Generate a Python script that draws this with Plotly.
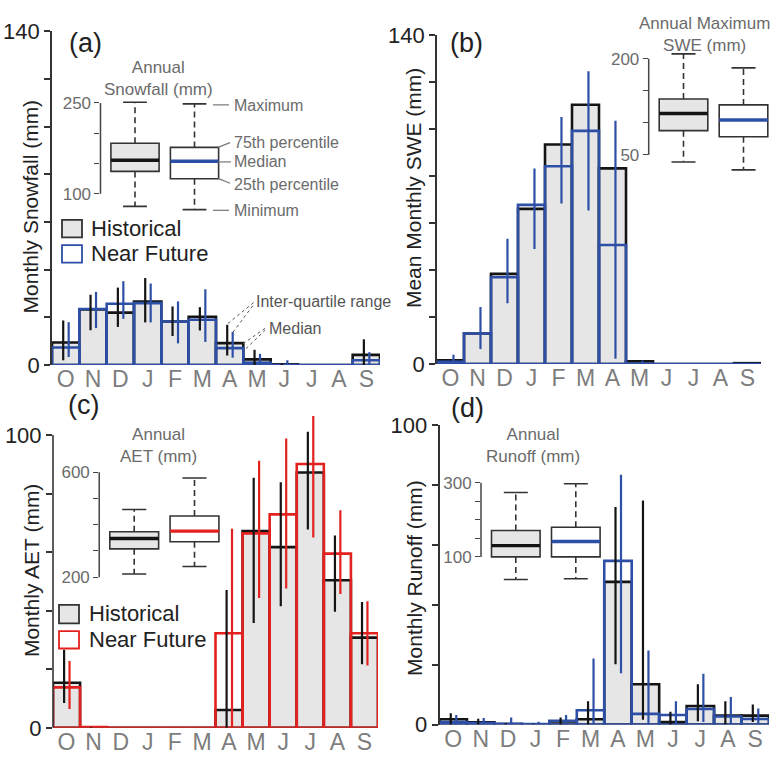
import plotly.graph_objects as go

W, H = 780, 765
FONT = "Liberation Sans, Arial, sans-serif"

months = ['O', 'N', 'D', 'J', 'F', 'M', 'A', 'M', 'J', 'J', 'A', 'S']

# (a) Monthly snowfall (mm): medians and inter-quartile ranges
snow_hist_med = [9.5, 23.3, 22.0, 26.7, 18.3, 20.3, 9.2, 2.4, 0.3, 0, 0, 4.3]
snow_fut_med = [7.4, 23.5, 25.7, 26.0, 18.3, 19.0, 7.1, 1.0, 0, 0, 0, 2.0]
snow_hist_q25 = [2.0, 14.6, 16.0, 17.9, 12.2, 14.5, 4.0, 0, 0, 0, 0, 0]
snow_hist_q75 = [18.7, 29.5, 32.5, 36.5, 24.6, 24.3, 16.9, 6.4, 0.8, 0, 0, 10.8]
snow_fut_q25 = [3.4, 15.5, 19.4, 17.9, 9.1, 9.7, 3.1, 0, 0, 0, 0, 0]
snow_fut_q75 = [18.0, 30.7, 35.2, 34.2, 26.7, 31.8, 13.9, 4.7, 2.0, 0, 0, 5.4]

# (b) Mean monthly SWE (mm)
swe_hist_med = [1.6, 13.0, 38.4, 66.1, 93.5, 110.4, 83.3, 1.2, 0, 0, 0, 0.4]
swe_fut_med = [1.0, 13.0, 37.0, 67.8, 84.2, 99.3, 50.7, 0.2, 0, 0, 0, 0]
swe_fut_q25 = [0.5, 6.4, 25.9, 49.0, 68.4, 65.4, 2.3, 0, 0, 0, 0, 0]
swe_fut_q75 = [4.0, 24.3, 53.4, 83.3, 105.2, 124.7, 103.6, 1.5, 0, 0, 0, 0]

# (c) Monthly AET (mm)
aet_hist_med = [15.4, 0, 0, 0, 0, 0, 6.1, 67.2, 61.7, 87.2, 50.4, 30.8]
aet_fut_med = [13.8, 0.3, 0, 0, 0, 0, 32.3, 66.4, 72.9, 90.1, 59.5, 32.3]
aet_hist_q25 = [8.5, 0, 0, 0, 0, 0, 0, 35.8, 41.5, 67.7, 39.6, 21.7]
aet_hist_q75 = [26.7, 0.3, 0, 0, 0, 0, 47.1, 85.4, 83.9, 101.1, 65.7, 43.0]
aet_fut_q25 = [6.4, 0, 0, 0, 0, 0, 0, 44.3, 47.6, 65.0, 45.7, 21.3]
aet_fut_q75 = [22.8, 0.6, 0, 0, 0, 0, 68.0, 91.2, 98.8, 106.5, 74.3, 43.2]

# (d) Monthly runoff (mm)
ro_hist_med = [1.8, 0.75, 0.2, 0.1, 1.1, 1.8, 47.7, 13.5, 0.9, 6.2, 3.0, 3.0]
ro_fut_med = [0.9, 0.5, 0.3, 0.2, 1.3, 4.8, 54.7, 3.6, 3.2, 5.2, 2.7, 1.9]
ro_hist_q25 = [0, 0, 0, 0, 0, 0, 20.2, 1.6, 0, 1.1, 0, 0.9]
ro_hist_q75 = [3.8, 2.0, 0.5, 0.3, 2.4, 7.8, 72.7, 74.9, 4.3, 13.5, 7.8, 6.7]
ro_fut_q25 = [0, 0, 0, 0, 0, 0, 17.2, 0, 0, 0.9, 0, 0]
ro_fut_q75 = [3.2, 2.2, 2.4, 1.0, 3.2, 22.1, 83.5, 24.8, 7.8, 17.0, 9.2, 5.4]

# Inset annual box plots: [min, q1, median, q3, max]
ann_snow_hist = [79.3, 137, 155.4, 183.5, 251]
ann_snow_fut = [74, 125, 153.8, 176.6, 248.4]
ann_swe_hist = [39, 87.8, 114.5, 137.1, 207.5]
ann_swe_fut = [26.6, 78.3, 104.4, 128, 185.8]
ann_aet_hist = [212.3, 308, 347.2, 373, 457.7]
ann_aet_fut = [240.5, 335, 375.5, 433, 578]
ann_ro_hist = [39.1, 100, 130.4, 171.3, 273.9]
ann_ro_fut = [40.9, 100, 141.7, 180, 297.4]

BLACK = '#141414'
BLUE = '#2d4fa6'
RED = '#e3211f'
GRAYFILL = '#e6e6e6'
TXTGRAY = '#6b6b6b'
MONTHGRAY = '#7d7d7d'


def px(x):
    return x / W


def py(y):
    return 1 - y / H


fig = go.Figure()


def add_panel(n, hist, fut, fcolor, hq25=None, hq75=None, fq25=None, fq75=None):
    xa = 'x' if n == 1 else 'x%d' % n
    ya = 'y' if n == 1 else 'y%d' % n
    idx = list(range(len(months)))
    fig.add_trace(go.Bar(x=idx, y=hist, width=1, xaxis=xa, yaxis=ya,
                         marker=dict(color=GRAYFILL, line=dict(color=BLACK, width=2.6))))
    fig.add_trace(go.Bar(x=idx, y=fut, width=1, xaxis=xa, yaxis=ya,
                         marker=dict(color='rgba(0,0,0,0)', line=dict(color=fcolor, width=2.6))))

    def iqr(lo, hi, off, color):
        xs, ys = [], []
        for i in idx:
            if hi[i] - lo[i] <= 0:
                continue
            xs += [i + off, i + off, None]
            ys += [lo[i], hi[i], None]
        fig.add_trace(go.Scatter(x=xs, y=ys, mode='lines', xaxis=xa, yaxis=ya,
                                 line=dict(color=color, width=2.2)))
    if hq25 is not None:
        iqr(hq25, hq75, -0.09, BLACK)
    if fq25 is not None:
        iqr(fq25, fq75, 0.11, fcolor)


def add_inset(n, hist, fut, mcolor):
    xa, ya = 'x%d' % n, 'y%d' % n
    for pos, st, fill, med in [(0, hist, GRAYFILL, BLACK), (1, fut, 'white', mcolor)]:
        mn, q1, md, q3, mx = st
        fig.add_trace(go.Box(x=[pos], q1=[q1], median=[md], q3=[q3], lowerfence=[q1],
                             upperfence=[q3], width=0.81, whiskerwidth=0, fillcolor=fill,
                             line=dict(color='#333333', width=1.6), xaxis=xa, yaxis=ya,
                             boxpoints=False))
        fig.add_trace(go.Scatter(x=[pos, pos, None, pos, pos], y=[q3, mx, None, q1, mn],
                                 mode='lines', xaxis=xa, yaxis=ya,
                                 line=dict(color='#333333', width=1.6, dash='6px,4px')))
        fig.add_trace(go.Scatter(x=[pos - 0.2, pos + 0.2, None, pos - 0.2, pos + 0.2],
                                 y=[mx, mx, None, mn, mn], mode='lines', xaxis=xa, yaxis=ya,
                                 line=dict(color='#333333', width=1.6)))
        fig.add_trace(go.Scatter(x=[pos - 0.405, pos + 0.405], y=[md, md], mode='lines',
                                 xaxis=xa, yaxis=ya, line=dict(color=med, width=3.4)))


add_panel(1, snow_hist_med, snow_fut_med, BLUE, snow_hist_q25, snow_hist_q75, snow_fut_q25, snow_fut_q75)
add_panel(2, swe_hist_med, swe_fut_med, BLUE, None, None, swe_fut_q25, swe_fut_q75)
add_panel(3, aet_hist_med, aet_fut_med, RED, aet_hist_q25, aet_hist_q75, aet_fut_q25, aet_fut_q75)
add_panel(4, ro_hist_med, ro_fut_med, BLUE, ro_hist_q25, ro_hist_q75, ro_fut_q25, ro_fut_q75)
add_inset(5, ann_snow_hist, ann_snow_fut, BLUE)
add_inset(6, ann_swe_hist, ann_swe_fut, BLUE)
add_inset(7, ann_aet_hist, ann_aet_fut, RED)
add_inset(8, ann_ro_hist, ann_ro_fut, BLUE)

layout = dict(width=W, height=H, margin=dict(l=0, r=0, t=0, b=0), autosize=False,
              paper_bgcolor='white', plot_bgcolor='rgba(0,0,0,0)', showlegend=False,
              barmode='overlay', font=dict(family=FONT, color='#222222'))


def main_axes(n, xl, xr, ybot, ytop, rng, tmax, step, showline=True):
    sx = '' if n == 1 else str(n)
    tv = list(range(0, tmax + 1, step))
    tt = [str(v) if v in (0, tmax) else '' for v in tv]
    layout['xaxis' + sx] = dict(domain=[px(xl), px(xr)], range=[-0.5, 11.5], anchor='y' + sx,
                                tickvals=list(range(12)), ticktext=months, ticks='',
                                showgrid=False, zeroline=False, showline=False,
                                tickfont=dict(size=23, color=MONTHGRAY), ticklabelstandoff=-2)
    layout['yaxis' + sx] = dict(domain=[py(ybot), py(ytop)], range=rng, anchor='x' + sx,
                                tickvals=tv, ticktext=tt, ticks='outside', ticklen=6,
                                tickwidth=1.5, tickcolor='#333333', showgrid=False,
                                zeroline=False, showline=showline, linecolor='#333333',
                                linewidth=1.6, tickfont=dict(size=22, color='#222222'))


# main panels
main_axes(1, 52, 380, 365, 20, [0, 140], 140, 20)
main_axes(2, 437, 761, 364, 24, [0, 140], 140, 20)
main_axes(3, 53, 378, 740, 740 - 110 * 3.027, [0, 110], 100, 20, showline=False)
main_axes(4, 439.5, 769, 736.7, 427.3, [0, 100], 100, 20)


def inset_axes(n, xcen0, ppu, ylo_px, yhi_px, vlo, vhi, rng, tv):
    xl = -0.58
    xr = 1.6
    s = (yhi_px - ylo_px) / (vhi - vlo)  # signed px per data unit
    ybot = ylo_px + (rng[0] - vlo) * s
    ytop = ylo_px + (rng[1] - vlo) * s
    layout['xaxis%d' % n] = dict(domain=[px(xcen0 + xl * ppu), px(xcen0 + xr * ppu)],
                                 range=[xl, xr], anchor='y%d' % n, visible=False)
    tt = [str(v) if v in (tv[0], tv[-1]) else '' for v in tv]
    layout['yaxis%d' % n] = dict(domain=[py(ybot), py(ytop)], range=rng, anchor='x%d' % n,
                                 tickvals=tv, ticktext=tt, ticks='outside', ticklen=5,
                                 tickwidth=1.4, tickcolor='#444444', showgrid=False,
                                 zeroline=False, showline=False,
                                 tickfont=dict(size=17, color=TXTGRAY))


inset_axes(5, 135, 59.5, 188, 94, 100, 250, [60, 262], [100, 150, 200, 250])
inset_axes(6, 683.5, 60, 147.7, 48.3, 50, 200, [20, 215], [50, 100, 150, 200])
inset_axes(7, 134.2, 60.3, 584.3, 475.7, 200, 600, [180, 620], [200, 300, 400, 500, 600])
inset_axes(8, 515.8, 60, 563.3, 486.7, 100, 300, [25, 310], [100, 150, 200, 250, 300])

fig.update_layout(**layout)

shapes = []
annotations = []

# inset bracket axis lines and (c) main axis line
for n, lo, hi in [(5, 100, 250), (6, 50, 200), (7, 200, 600), (8, 100, 300)]:
    shapes.append(dict(type='line', xref='x%d domain' % n, yref='y%d' % n, x0=0, x1=0,
                       y0=lo, y1=hi, line=dict(color='#444444', width=1.5)))
shapes.append(dict(type='line', xref='x3 domain', yref='y3', x0=0, x1=0, y0=0, y1=100,
                   line=dict(color='#333333', width=1.6)))


def ptext(x, y, text, size, color='#222222', xanchor='center', angle=0):
    annotations.append(dict(x=px(x), y=py(y), xref='paper', yref='paper', text=text,
                            showarrow=False, xanchor=xanchor, yanchor='middle',
                            font=dict(size=size, color=color, family=FONT), textangle=angle))


def pline(x0, y0, x1, y1, color='#777777', width=1.2, dash='solid'):
    shapes.append(dict(type='line', xref='paper', yref='paper', x0=px(x0), y0=py(y0),
                       x1=px(x1), y1=py(y1), line=dict(color=color, width=width, dash=dash)))


def prect(x0, y0, x1, y1, line, fill):
    shapes.append(dict(type='rect', xref='paper', yref='paper', x0=px(x0), y0=py(y0),
                       x1=px(x1), y1=py(y1), line=dict(color=line, width=1.8), fillcolor=fill))


# panel letters
ptext(85, 32, '(a)', 27)
ptext(466, 32, '(b)', 27)
ptext(83, 406, '(c)', 27)
ptext(467, 409, '(d)', 27)

# y-axis titles
ptext(30, 201, 'Monthly Snowfall (mm)', 21, angle=-90)
ptext(413, 182, 'Mean Monthly SWE (mm)', 21, angle=-90)
ptext(31, 578, 'Monthly AET (mm)', 21, angle=-90)
ptext(415, 585, 'Monthly Runoff (mm)', 21, angle=-90)

# inset titles
ptext(158, 69, 'Annual<br>Snowfall (mm)', 17, TXTGRAY)
ptext(704, 23, 'Annual Maximum<br>SWE (mm)', 17, TXTGRAY)
ptext(158, 448, 'Annual<br>AET (mm)', 17, TXTGRAY)
ptext(533, 448, 'Annual<br>Runoff (mm)', 17, TXTGRAY)

# legends
prect(62, 215, 82, 233, '#333333', GRAYFILL)
prect(62, 241, 82, 259, BLUE, 'white')
ptext(89, 224, 'Historical', 22, xanchor='left')
ptext(89, 250, 'Near Future', 22, xanchor='left')
prect(59, 613, 79, 632, '#333333', GRAYFILL)
prect(59, 640, 79, 658, RED, 'white')
ptext(87, 622, 'Historical', 22, xanchor='left')
ptext(87, 649, 'Near Future', 22, xanchor='left')

# box-plot explanation in (a)
ptext(232, 97, 'Maximum', 16, TXTGRAY, xanchor='left')
ptext(232, 135, '75th percentile', 16, TXTGRAY, xanchor='left')
ptext(232, 155, 'Median', 16, TXTGRAY, xanchor='left')
ptext(232, 178, '25th percentile', 16, TXTGRAY, xanchor='left')
ptext(232, 205, 'Minimum', 16, TXTGRAY, xanchor='left')
pline(213, 96, 229, 96)
pline(218, 140, 230, 135)
pline(218, 155, 231, 155)
pline(218, 172, 230, 177)
pline(213, 205, 229, 205)

# IQR / median explanation in (a)
ptext(254, 299, 'Inter-quartile range', 16, '#555555', xanchor='left')
ptext(267, 327, 'Median', 16, '#555555', xanchor='left')
pline(228, 322, 254, 300, '#555555', 1, 'dot')
pline(233, 331, 254, 302, '#555555', 1, 'dot')
pline(243, 343, 265, 327, '#555555', 1, 'dot')
pline(246, 348, 265, 329, '#555555', 1, 'dot')

fig.update_layout(shapes=shapes, annotations=annotations)
fig.write_html('out.html')
